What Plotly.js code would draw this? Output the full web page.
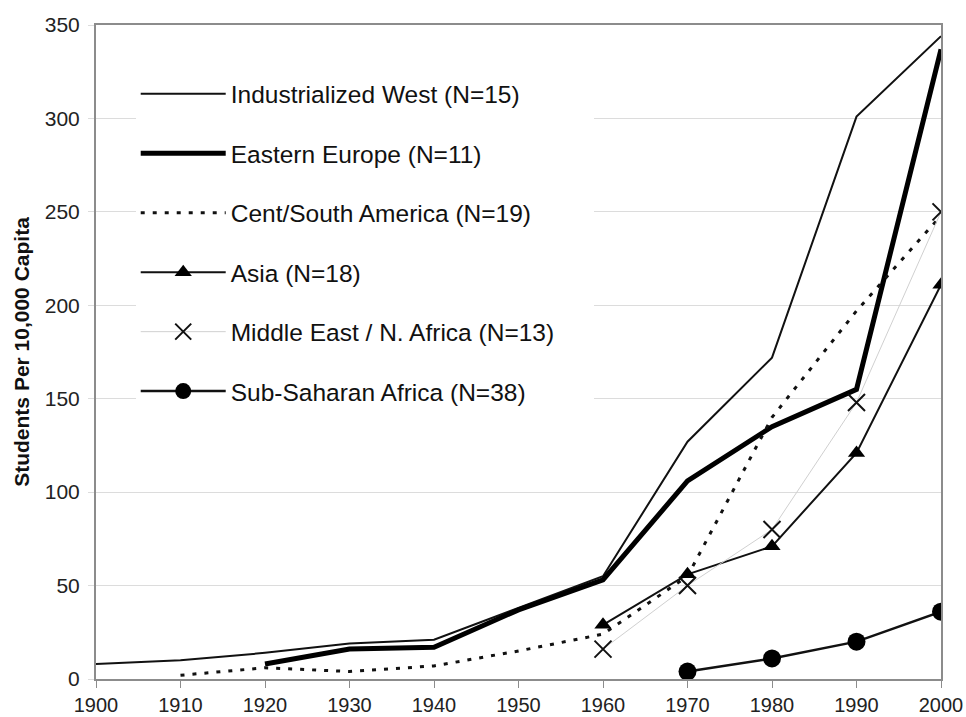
<!DOCTYPE html>
<html>
<head>
<meta charset="utf-8">
<script src="https://cdn.plot.ly/plotly-3.0.1.min.js"></script>
<style>html,body{margin:0;padding:0;background:#fff;}#chart{width:966px;height:717px;}</style>
</head>
<body>
<div id="chart"></div>
<script>
// Data
const yearsIW = [1900, 1910, 1920, 1930, 1940, 1950, 1960, 1970, 1980, 1990, 2000];
const industrializedWest = [8, 10, 14, 19, 21, 38, 55, 127, 172, 301, 344];

const yearsEE = [1920, 1930, 1940, 1950, 1960, 1970, 1980, 1990, 2000];
const easternEurope = [8, 16, 17, 37, 53, 106, 135, 155, 337];

const yearsCSA = [1910, 1920, 1930, 1940, 1950, 1960, 1970, 1980, 1990, 2000];
const centSouthAmerica = [2, 6, 4, 7, 15, 24, 55, 140, 197, 248];

const yearsAsia = [1960, 1970, 1980, 1990, 2000];
const asia = [29, 56, 71, 121, 211];

const yearsMENA = [1960, 1970, 1980, 1990, 2000];
const middleEast = [16, 50, 80, 148, 250];

const yearsSSA = [1970, 1980, 1990, 2000];
const subSaharan = [4, 11, 20, 36];

const seriesNames = [
  "Industrialized West (N=15)",
  "Eastern Europe (N=11)",
  "Cent/South America (N=19)",
  "Asia (N=18)",
  "Middle East / N. Africa (N=13)",
  "Sub-Saharan Africa (N=38)"
];
const xTicks = [1900, 1910, 1920, 1930, 1940, 1950, 1960, 1970, 1980, 1990, 2000];
const yTicks = [0, 50, 100, 150, 200, 250, 300, 350];

const FONT = "Liberation Sans, Arial, sans-serif";
// invisible padding so the white legend box is as wide as in the reference
const PAD = "\u00a0\u00a0\u00a0\u00a0\u00a0";

const traces = [
  {x: yearsIW, y: industrializedWest, name: seriesNames[0], mode: "lines",
   line: {color: "#111", width: 2}, legendgroup: "g1"},
  {x: yearsEE, y: easternEurope, name: seriesNames[1], mode: "lines",
   line: {color: "#000", width: 5}, legendgroup: "g2"},
  {x: yearsCSA, y: centSouthAmerica, name: seriesNames[2], mode: "lines",
   line: {color: "#111", width: 3, dash: "4px,8px"}, legendgroup: "g3"},
  {x: yearsAsia, y: asia, name: seriesNames[3], mode: "lines+markers",
   line: {color: "#111", width: 2},
   marker: {symbol: "triangle-up", size: 15, color: "#000"}, legendgroup: "g4"},
  {x: yearsMENA, y: middleEast, name: seriesNames[4] + PAD, mode: "lines+markers",
   line: {color: "#d0d0d0", width: 1},
   marker: {symbol: "x-thin-open", size: 17, color: "#111", line: {width: 2, color: "#111"}}, legendgroup: "g5"},
  {x: yearsSSA, y: subSaharan, name: seriesNames[5], mode: "lines+markers",
   line: {color: "#111", width: 2.5},
   marker: {symbol: "circle", size: 18, color: "#000"}, legendgroup: "g6"}
];

const layout = {
  width: 966, height: 717,
  margin: {l: 96, r: 25, t: 25, b: 38},
  paper_bgcolor: "#fff", plot_bgcolor: "#fff",
  font: {family: FONT, color: "#222", size: 20},
  showlegend: true,
  legend: {
    x: 0.047, y: 0.929, xanchor: "left", yanchor: "top",
    bgcolor: "#fff", borderwidth: 0,
    font: {family: FONT, size: 24.5, color: "#111"},
    traceorder: "grouped", tracegroupgap: 24.6, itemwidth: 85
  },
  xaxis: {
    range: [1900, 2000], tickvals: xTicks, ticktext: xTicks.map(String),
    showgrid: false, zeroline: false,
    showline: true, linecolor: "#8c8c8c", linewidth: 2, mirror: true,
    ticks: "outside", ticklen: 7, tickcolor: "#8c8c8c", tickwidth: 1,
    tickfont: {family: FONT, size: 20, color: "#222"}
  },
  yaxis: {
    range: [0, 350], tickvals: yTicks, ticktext: yTicks.map(String),
    showgrid: true, gridcolor: "#dcdcdc", gridwidth: 1, zeroline: false,
    showline: true, linecolor: "#8c8c8c", linewidth: 2, mirror: true,
    ticks: "outside", ticklen: 6, tickcolor: "#dcdcdc", tickwidth: 1,
    ticklabelstandoff: 4,
    tickfont: {family: FONT, size: 21, color: "#222"},
    title: {text: "<b>Students Per 10,000 Capita</b>", standoff: 9,
            font: {family: FONT, size: 21, color: "#111"}}
  }
};

Plotly.newPlot("chart", traces, layout, {displayModeBar: false, staticPlot: true});
</script>
</body>
</html>
